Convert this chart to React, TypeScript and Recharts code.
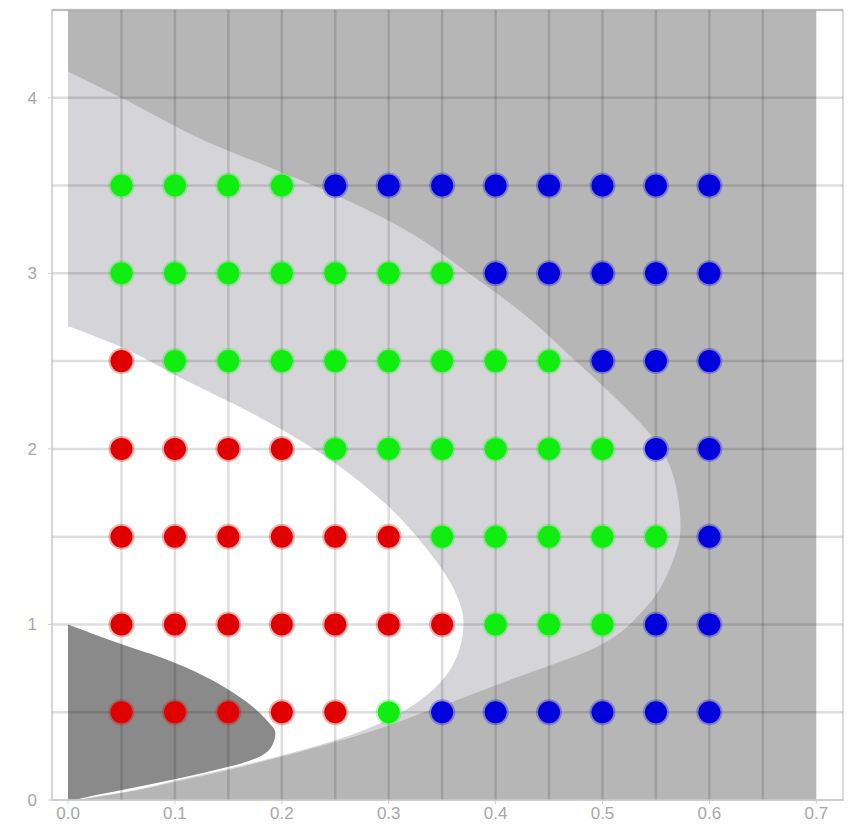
import React from "react";
import {
  ComposedChart,
  Area,
  Scatter,
  XAxis,
  YAxis,
  ReferenceLine,
  ReferenceArea,
} from "recharts";

// region edges as [y, x] — each region fills from x = 0 to x
const backgroundEdge = [
  [0, 0.7],
  [4.5, 0.7],
];
const lightEdge = [
  [0, 0.008], [0.06, 0.068], [0.1, 0.098], [0.19, 0.163], [0.34, 0.256],
  [0.42, 0.298], [0.5, 0.333], [0.69, 0.416], [0.87, 0.494], [1.1, 0.541],
  [1.35, 0.565], [1.55, 0.573], [1.83, 0.567], [2.0, 0.555], [2.15, 0.535],
  [2.36, 0.5], [2.5, 0.475], [2.75, 0.43], [3.0, 0.375], [3.25, 0.315],
  [3.5, 0.23], [3.6, 0.19], [3.75, 0.13], [4.0, 0.05], [4.15, 0],
];
const whiteEdge = [
  [0, 0.005], [0.06, 0.065], [0.1, 0.093], [0.19, 0.158], [0.34, 0.25],
  [0.44, 0.293], [0.5, 0.312], [0.61, 0.338], [0.82, 0.364], [1.01, 0.37],
  [1.2, 0.361], [1.45, 0.333], [1.71, 0.293], [2.0, 0.23], [2.21, 0.17],
  [2.4, 0.107], [2.59, 0.046], [2.7, 0],
];
const darkEdge = [
  [0, 0.006], [0.02, 0.02], [0.07, 0.061], [0.15, 0.123], [0.23, 0.173],
  [0.3, 0.19], [0.38, 0.194], [0.46, 0.185], [0.61, 0.155], [0.8, 0.092],
  [0.89, 0.049], [1.0, 0],
];

// sample points as [x, y]
const redPoints = [
  [0.05, 2.5],
  [0.05, 2], [0.1, 2], [0.15, 2], [0.2, 2],
  [0.05, 1.5], [0.1, 1.5], [0.15, 1.5], [0.2, 1.5], [0.25, 1.5], [0.3, 1.5],
  [0.05, 1], [0.1, 1], [0.15, 1], [0.2, 1], [0.25, 1], [0.3, 1], [0.35, 1],
  [0.05, 0.5], [0.1, 0.5], [0.15, 0.5], [0.2, 0.5], [0.25, 0.5],
];
const greenPoints = [
  [0.05, 3.5], [0.1, 3.5], [0.15, 3.5], [0.2, 3.5],
  [0.05, 3], [0.1, 3], [0.15, 3], [0.2, 3], [0.25, 3], [0.3, 3], [0.35, 3],
  [0.1, 2.5], [0.15, 2.5], [0.2, 2.5], [0.25, 2.5], [0.3, 2.5], [0.35, 2.5],
  [0.4, 2.5], [0.45, 2.5],
  [0.25, 2], [0.3, 2], [0.35, 2], [0.4, 2], [0.45, 2], [0.5, 2],
  [0.35, 1.5], [0.4, 1.5], [0.45, 1.5], [0.5, 1.5], [0.55, 1.5],
  [0.4, 1], [0.45, 1], [0.5, 1],
  [0.3, 0.5],
];
const bluePoints = [
  [0.25, 3.5], [0.3, 3.5], [0.35, 3.5], [0.4, 3.5], [0.45, 3.5], [0.5, 3.5],
  [0.55, 3.5], [0.6, 3.5],
  [0.4, 3], [0.45, 3], [0.5, 3], [0.55, 3], [0.6, 3],
  [0.5, 2.5], [0.55, 2.5], [0.6, 2.5],
  [0.55, 2], [0.6, 2],
  [0.6, 1.5],
  [0.55, 1], [0.6, 1],
  [0.35, 0.5], [0.4, 0.5], [0.45, 0.5], [0.5, 0.5], [0.55, 0.5], [0.6, 0.5],
];

const gridX = [0.05, 0.1, 0.15, 0.2, 0.25, 0.3, 0.35, 0.4, 0.45, 0.5, 0.55, 0.6, 0.65];
const gridY = [0.5, 1, 1.5, 2, 2.5, 3, 3.5, 4, 4.5];
const xTicks = [0, 0.1, 0.2, 0.3, 0.4, 0.5, 0.6, 0.7];
const yTicks = [0, 1, 2, 3, 4];

const edge = (pts: number[][]) => pts.map(([y, x]) => ({ y, x }));
const pts = (list: number[][]) => list.map(([x, y]) => ({ x, y }));

const dot = (color: string) => (p: any) => (
  <circle
    cx={p.cx}
    cy={p.cy}
    r={11}
    fill={color}
    stroke={color}
    strokeOpacity={0.3}
    strokeWidth={4}
  />
);

const tickStyle = { fill: "#a8a8a8", fontSize: 17, fontFamily: "Liberation Sans, Arial, sans-serif" };

export default function App() {
  return (
    <div style={{ position: "absolute", left: 0, top: 0, background: "#fff" }}>
      <ComposedChart
        width={853}
        height={835}
        layout="vertical"
        margin={{ top: 10, right: 10, bottom: 0, left: 0 }}
      >
        <XAxis
          type="number"
          dataKey="x"
          domain={[-0.015, 0.725]}
          allowDataOverflow
          ticks={xTicks}
          tickFormatter={(v) => Number(v).toFixed(1)}
          height={35}
          tickSize={4}
          tickMargin={3}
          tick={tickStyle}
          axisLine={{ stroke: "#c4c4c4" }}
          tickLine={{ stroke: "#cfcfcf" }}
        />
        <YAxis
          type="number"
          dataKey="y"
          domain={[0, 4.5]}
          reversed
          allowDataOverflow
          ticks={yTicks}
          width={52}
          tickSize={4}
          tickMargin={11}
          tick={tickStyle}
          axisLine={{ stroke: "#cfcfcf" }}
          tickLine={{ stroke: "#cfcfcf" }}
        />
        <Area
          data={edge(backgroundEdge)}
          dataKey="x"
          type="linear"
          stroke="none"
          fill="#b6b6b6"
          fillOpacity={1}
          isAnimationActive={false}
        />
        <Area
          data={edge(lightEdge)}
          dataKey="x"
          type="monotone"
          stroke="none"
          fill="#d5d4d8"
          fillOpacity={1}
          isAnimationActive={false}
        />
        <Area
          data={edge(whiteEdge)}
          dataKey="x"
          type="monotone"
          stroke="none"
          fill="#ffffff"
          fillOpacity={1}
          isAnimationActive={false}
        />
        <Area
          data={edge(darkEdge)}
          dataKey="x"
          type="monotone"
          stroke="none"
          fill="#8a8a8a"
          fillOpacity={1}
          isAnimationActive={false}
        />
        {gridX.map((x) => (
          <ReferenceLine
            key={"gx" + x}
            x={x}
            stroke="#000"
            strokeOpacity={0.13}
            strokeWidth={2.5}
          />
        ))}
        {gridY.map((y) => (
          <ReferenceLine
            key={"gy" + y}
            y={y}
            stroke="#000"
            strokeOpacity={0.13}
            strokeWidth={2.5}
          />
        ))}
        <ReferenceArea
          x1={-0.015}
          x2={0.725}
          y1={0}
          y2={4.5}
          fill="none"
          stroke="#cfcfcf"
          strokeWidth={1.5}
        />
        <Scatter
          data={pts(redPoints)}
          shape={dot("#e00000")}
          isAnimationActive={false}
        />
        <Scatter
          data={pts(greenPoints)}
          shape={dot("#10ee10")}
          isAnimationActive={false}
        />
        <Scatter
          data={pts(bluePoints)}
          shape={dot("#0000dd")}
          isAnimationActive={false}
        />
      </ComposedChart>
    </div>
  );
}
